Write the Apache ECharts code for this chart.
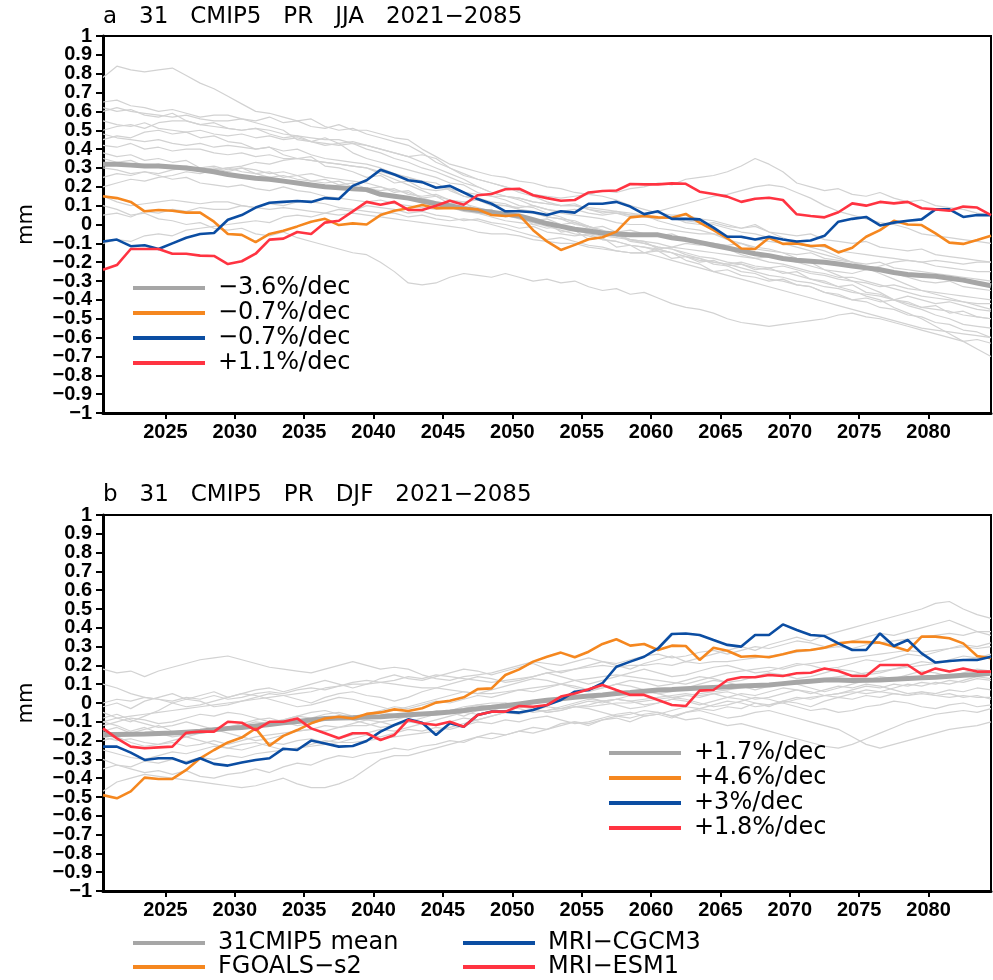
<!DOCTYPE html>
<html>
<head>
<meta charset="utf-8">
<script src="https://cdn.jsdelivr.net/npm/echarts@6/dist/echarts.min.js"></script>
<style>
  html, body { margin: 0; padding: 0; background: #fff; }
  #chart { width: 993px; height: 980px; }
</style>
</head>
<body>
<div id="chart"></div>
<script>
(function () {
    "use strict";

    // years 2021..2085, one value per year
    var years = [];
    for (var y = 2021; y <= 2085; y++) { years.push(y); }
    var xTicks = [2025, 2030, 2035, 2040, 2045, 2050, 2055, 2060, 2065, 2070, 2075, 2080];
    var yTicks = [-1, -0.9, -0.8, -0.7, -0.6, -0.5, -0.4, -0.3, -0.2, -0.1, 0,
        0.1, 0.2, 0.3, 0.4, 0.5, 0.6, 0.7, 0.8, 0.9, 1];
    // labels split over two axes so no axis has touching neighbours (echarts would cull them)
    var yEven = yTicks.filter(function (v, i) { return i % 2 === 0; });
    var yOdd = yTicks.filter(function (v, i) { return i % 2 === 1; });

    // ---------- panel a : JJA ----------
    var jjaMean = [0.32,0.32,0.315,0.31,0.31,0.305,0.30,0.29,0.28,0.265,0.255,0.245,0.24,0.23,0.22,0.21,0.20,0.195,0.19,0.185,
        0.16,0.15,0.14,0.125,0.11,0.10,0.085,0.075,0.065,0.055,0.045,0.025,0.005,-0.01,-0.025,-0.035,-0.045,-0.05,-0.055,-0.055,
        -0.055,-0.07,-0.08,-0.095,-0.11,-0.125,-0.14,-0.155,-0.165,-0.18,-0.19,-0.195,-0.2,-0.21,-0.22,-0.23,-0.24,-0.255,-0.265,-0.27,
        -0.275,-0.285,-0.295,-0.31,-0.325];
    var jjaFgoals = [0.15,0.14,0.12,0.07,0.077,0.073,0.063,0.063,0.015,-0.05,-0.055,-0.093,-0.05,-0.033,-0.01,0.015,0.03,-0.003,0.006,0,
        0.05,0.073,0.086,0.103,0.087,0.087,0.086,0.08,0.05,0.045,0.05,-0.03,-0.09,-0.135,-0.108,-0.078,-0.068,-0.038,0.038,0.045,
        0.038,0.036,0.056,0.01,-0.03,-0.073,-0.127,-0.13,-0.07,-0.103,-0.1,-0.114,-0.11,-0.148,-0.123,-0.065,-0.03,0.02,0,-0.003,
        -0.047,-0.096,-0.103,-0.082,-0.06];
    var jjaCgcm = [-0.09,-0.08,-0.115,-0.11,-0.13,-0.10,-0.07,-0.05,-0.045,0.025,0.05,0.09,0.115,0.12,0.125,0.12,0.14,0.135,0.205,0.235,
        0.29,0.265,0.235,0.225,0.195,0.205,0.17,0.135,0.11,0.07,0.07,0.065,0.05,0.07,0.063,0.11,0.11,0.12,0.095,0.055,
        0.07,0.03,0.03,0.027,-0.017,-0.065,-0.065,-0.08,-0.065,-0.08,-0.09,-0.085,-0.06,0.015,0.03,0.04,-0.005,0.01,0.02,0.027,
        0.08,0.08,0.04,0.05,0.05];
    var jjaEsm = [-0.24,-0.215,-0.13,-0.13,-0.13,-0.155,-0.155,-0.165,-0.167,-0.21,-0.195,-0.155,-0.08,-0.075,-0.04,-0.05,0.01,0.02,0.07,0.12,
        0.105,0.12,0.077,0.077,0.1,0.126,0.105,0.155,0.162,0.187,0.19,0.155,0.14,0.126,0.13,0.17,0.178,0.18,0.215,0.213,
        0.213,0.218,0.216,0.174,0.162,0.148,0.12,0.137,0.142,0.13,0.054,0.045,0.038,0.065,0.112,0.1,0.12,0.112,0.12,0.086,
        0.08,0.073,0.095,0.09,0.05];
    var jjaModels = [
        [0.78,0.84,0.82,0.81,0.82,0.83,0.79,0.75,0.72,0.68,0.64,0.60,0.59,0.57,0.55,0.56,0.52,0.50,0.51,0.48,
         0.46,0.44,0.42,0.38,0.33,0.30,0.27,0.24,0.22,0.20,0.17,0.15,0.12,0.10,0.11,0.08,0.06,0.07,0.05,0.05,
         0.02,0.00,-0.02,-0.03,-0.05,-0.08,-0.10,-0.12,-0.13,-0.15,-0.18,-0.20,-0.24,-0.27,-0.30,-0.33,-0.36,-0.40,-0.43,-0.45,
         -0.48,-0.50,-0.53,-0.54,-0.55],
        [0.65,0.66,0.63,0.62,0.60,0.61,0.59,0.57,0.58,0.58,0.56,0.55,0.57,0.54,0.55,0.52,0.51,0.53,0.50,0.50,
         0.48,0.46,0.45,0.40,0.36,0.32,0.30,0.28,0.26,0.25,0.23,0.22,0.20,0.19,0.17,0.16,0.15,0.13,0.10,0.08,
         0.06,0.05,0.05,0.03,0.02,0.00,-0.02,0.00,-0.04,-0.07,-0.10,-0.12,-0.14,-0.17,-0.20,-0.22,-0.23,-0.26,-0.28,-0.30,
         -0.31,-0.30,-0.33,-0.34,-0.35],
        [0.55,0.53,0.52,0.54,0.51,0.50,0.49,0.50,0.48,0.47,0.48,0.46,0.47,0.45,0.46,0.44,0.43,0.42,0.43,0.42,
         0.40,0.38,0.36,0.37,0.35,0.30,0.26,0.24,0.22,0.20,0.18,0.16,0.15,0.14,0.15,0.16,0.18,0.17,0.19,0.20,
         0.22,0.21,0.24,0.25,0.26,0.28,0.31,0.35,0.32,0.28,0.22,0.20,0.18,0.19,0.16,0.15,0.17,0.14,0.12,0.13,
         0.10,0.09,0.08,0.06,0.05],
        [0.48,0.46,0.45,0.44,0.45,0.43,0.42,0.43,0.41,0.42,0.41,0.40,0.41,0.39,0.40,0.37,0.35,0.34,0.33,0.32,
         0.30,0.27,0.25,0.23,0.22,0.18,0.15,0.13,0.11,0.10,0.08,0.06,0.04,0.03,0.02,-0.01,-0.03,-0.06,-0.08,-0.10,
         -0.12,-0.13,-0.15,-0.17,-0.18,-0.20,-0.21,-0.23,-0.24,-0.25,-0.27,-0.29,-0.31,-0.33,-0.35,-0.38,-0.40,-0.44,-0.47,-0.50,
         -0.54,-0.58,-0.62,-0.66,-0.70],
        [0.38,0.36,0.37,0.34,0.35,0.33,0.34,0.30,0.31,0.29,0.30,0.27,0.28,0.25,0.26,0.23,0.24,0.21,0.22,0.19,
         0.20,0.17,0.18,0.14,0.15,0.11,0.12,0.07,0.08,0.04,0.05,0.00,0.01,-0.04,-0.03,-0.08,-0.07,-0.12,-0.11,-0.15,
         -0.14,-0.18,-0.17,-0.20,-0.19,-0.22,-0.21,-0.24,-0.23,-0.26,-0.25,-0.29,-0.30,-0.33,-0.32,-0.36,-0.37,-0.40,-0.41,-0.44,
         -0.43,-0.47,-0.46,-0.49,-0.50],
        [0.10,0.08,0.05,0.06,0.03,0.02,0.00,0.01,-0.02,-0.03,-0.02,-0.05,-0.06,-0.04,-0.07,-0.09,-0.11,-0.13,-0.15,-0.16,
         -0.20,-0.25,-0.31,-0.32,-0.31,-0.28,-0.26,-0.27,-0.28,-0.26,-0.28,-0.30,-0.29,-0.31,-0.30,-0.33,-0.35,-0.34,-0.37,-0.36,
         -0.39,-0.42,-0.44,-0.45,-0.47,-0.50,-0.52,-0.53,-0.54,-0.53,-0.52,-0.51,-0.50,-0.48,-0.47,-0.49,-0.50,-0.52,-0.54,-0.56,
         -0.58,-0.60,-0.62,-0.61,-0.63],
        [0.30,0.29,0.27,0.28,0.26,0.24,0.25,0.22,0.21,0.20,0.21,0.19,0.18,0.20,0.18,0.17,0.15,0.14,0.13,0.12,
         0.13,0.11,0.10,0.09,0.08,0.09,0.07,0.06,0.05,0.05,0.04,0.02,0.03,0.00,0.01,-0.02,-0.01,-0.04,-0.03,-0.05,
         -0.06,-0.05,-0.08,-0.09,-0.10,-0.11,-0.10,-0.13,-0.14,-0.15,-0.16,-0.15,-0.18,-0.19,-0.20,-0.21,-0.20,-0.23,-0.24,-0.25,
         -0.26,-0.27,-0.28,-0.29,-0.30],
        [0.60,0.62,0.60,0.59,0.58,0.57,0.58,0.56,0.55,0.55,0.56,0.54,0.52,0.50,0.45,0.44,0.46,0.43,0.44,0.42,
         0.40,0.38,0.36,0.33,0.30,0.27,0.24,0.20,0.17,0.15,0.13,0.10,0.08,0.06,0.05,0.04,0.03,0.01,0.00,0.00,
         -0.02,-0.03,-0.04,-0.05,-0.05,-0.06,-0.07,-0.08,-0.09,-0.10,-0.12,-0.14,-0.16,-0.18,-0.20,-0.23,-0.26,-0.29,-0.32,-0.35,
         -0.37,-0.39,-0.41,-0.43,-0.45],
        [0.20,0.22,0.24,0.23,0.25,0.26,0.28,0.27,0.29,0.30,0.31,0.33,0.32,0.34,0.35,0.34,0.33,0.32,0.31,0.30,
         0.28,0.26,0.25,0.22,0.20,0.19,0.17,0.16,0.15,0.15,0.14,0.12,0.11,0.10,0.10,0.08,0.07,0.06,0.05,0.05,
         0.07,0.09,0.11,0.13,0.15,0.16,0.18,0.20,0.21,0.20,0.17,0.14,0.10,0.07,0.05,0.03,0.01,0.00,-0.02,-0.05,
         -0.06,-0.07,-0.08,-0.09,-0.10],
        [0.45,0.47,0.46,0.49,0.50,0.48,0.49,0.46,0.47,0.44,0.43,0.40,0.41,0.37,0.35,0.36,0.31,0.30,0.28,0.25,
         0.26,0.22,0.23,0.19,0.18,0.19,0.15,0.14,0.12,0.11,0.08,0.07,0.04,0.03,0.00,-0.01,-0.04,-0.05,-0.08,-0.09,
         -0.13,-0.15,-0.19,-0.21,-0.25,-0.24,-0.27,-0.28,-0.30,-0.29,-0.32,-0.33,-0.36,-0.38,-0.40,-0.39,-0.41,-0.40,-0.38,-0.40,
         -0.42,-0.41,-0.43,-0.45,-0.46],
        [-0.10,-0.08,-0.09,-0.06,-0.05,-0.06,-0.03,-0.02,-0.01,0.00,0.01,0.02,0.01,0.04,0.05,0.04,0.06,0.08,0.07,0.10,
         0.09,0.08,0.06,0.07,0.05,0.04,0.02,0.03,0.01,0.00,-0.02,-0.01,-0.04,-0.05,-0.06,-0.05,-0.08,-0.09,-0.11,-0.12,
         -0.13,-0.15,-0.17,-0.19,-0.20,-0.21,-0.20,-0.22,-0.23,-0.22,-0.24,-0.26,-0.27,-0.29,-0.30,-0.31,-0.33,-0.32,-0.34,-0.35,
         -0.36,-0.37,-0.38,-0.39,-0.40],
        [0.35,0.33,0.34,0.31,0.32,0.30,0.31,0.29,0.30,0.28,0.30,0.29,0.27,0.28,0.26,0.27,0.25,0.24,0.23,0.22,
         0.20,0.18,0.17,0.14,0.12,0.10,0.08,0.06,0.04,0.02,0.01,0.00,-0.02,-0.01,-0.03,-0.05,-0.06,-0.07,-0.08,-0.09,
         -0.10,-0.12,-0.13,-0.14,-0.15,-0.16,-0.17,-0.18,-0.17,-0.18,-0.20,-0.22,-0.24,-0.25,-0.26,-0.24,-0.22,-0.20,-0.19,-0.20,
         -0.22,-0.23,-0.24,-0.25,-0.25],
        [0.50,0.52,0.53,0.51,0.54,0.55,0.55,0.53,0.52,0.51,0.50,0.51,0.50,0.48,0.47,0.46,0.45,0.45,0.43,0.40,
         0.38,0.35,0.33,0.30,0.28,0.25,0.22,0.20,0.17,0.15,0.14,0.12,0.11,0.10,0.10,0.09,0.08,0.07,0.06,0.05,
         0.04,0.03,0.02,0.01,0.00,-0.02,-0.04,-0.05,-0.07,-0.08,-0.10,-0.11,-0.12,-0.14,-0.15,-0.16,-0.17,-0.18,-0.19,-0.20,
         -0.19,-0.20,-0.21,-0.20,-0.20],
        [0.15,0.12,0.10,0.11,0.12,0.13,0.12,0.11,0.12,0.12,0.10,0.09,0.08,0.09,0.08,0.07,0.06,0.05,0.06,0.05,
         0.04,0.03,0.02,0.01,0.00,-0.01,-0.02,-0.04,-0.05,-0.05,-0.06,-0.08,-0.09,-0.10,-0.10,-0.12,-0.13,-0.14,-0.15,-0.15,
         -0.17,-0.19,-0.21,-0.23,-0.25,-0.27,-0.29,-0.31,-0.33,-0.35,-0.37,-0.39,-0.41,-0.43,-0.45,-0.47,-0.49,-0.51,-0.53,-0.55,
         -0.56,-0.57,-0.58,-0.59,-0.60],
        [0.62,0.60,0.61,0.58,0.57,0.59,0.55,0.53,0.54,0.51,0.50,0.51,0.48,0.46,0.47,0.44,0.42,0.43,0.38,0.35,
         0.33,0.31,0.29,0.27,0.25,0.22,0.21,0.17,0.15,0.13,0.10,0.09,0.06,0.04,0.01,-0.01,-0.04,-0.05,-0.09,-0.10,
         -0.12,-0.13,-0.16,-0.18,-0.21,-0.22,-0.25,-0.26,-0.29,-0.30,-0.32,-0.33,-0.36,-0.37,-0.40,-0.41,-0.44,-0.45,-0.48,-0.49,
         -0.52,-0.53,-0.56,-0.57,-0.60],
        [0.25,0.27,0.26,0.28,0.27,0.29,0.30,0.28,0.29,0.30,0.28,0.27,0.25,0.26,0.24,0.23,0.22,0.23,0.20,0.19,
         0.18,0.19,0.16,0.15,0.16,0.13,0.12,0.13,0.10,0.10,0.09,0.10,0.08,0.07,0.08,0.06,0.05,0.06,0.04,0.04,
         0.03,0.04,0.01,0.00,0.01,-0.01,-0.02,-0.01,-0.04,-0.05,-0.06,-0.05,-0.08,-0.09,-0.10,-0.09,-0.12,-0.13,-0.14,-0.13,
         -0.16,-0.17,-0.18,-0.19,-0.20],
        [0.42,0.41,0.43,0.40,0.41,0.39,0.40,0.40,0.38,0.37,0.38,0.36,0.37,0.35,0.35,0.34,0.33,0.32,0.31,0.30,
         0.27,0.24,0.21,0.18,0.15,0.13,0.11,0.09,0.07,0.05,0.03,0.01,-0.01,-0.03,-0.05,-0.06,-0.08,-0.09,-0.11,-0.12,
         -0.14,-0.15,-0.17,-0.18,-0.20,-0.21,-0.23,-0.25,-0.27,-0.28,-0.30,-0.31,-0.33,-0.34,-0.36,-0.37,-0.38,-0.40,-0.42,-0.44,
         -0.45,-0.46,-0.48,-0.49,-0.50],
        [0.05,0.06,0.04,0.07,0.06,0.08,0.07,0.09,0.08,0.08,0.10,0.09,0.11,0.10,0.12,0.12,0.11,0.09,0.08,0.07,
         0.06,0.06,0.04,0.05,0.03,0.02,0.03,0.02,0.00,-0.02,-0.04,-0.06,-0.08,-0.07,-0.09,-0.11,-0.12,-0.14,-0.15,-0.15,
         -0.13,-0.12,-0.10,-0.11,-0.10,-0.13,-0.16,-0.18,-0.20,-0.21,-0.23,-0.25,-0.26,-0.28,-0.28,-0.30,-0.32,-0.34,-0.36,-0.38,
         -0.39,-0.40,-0.41,-0.42,-0.42]
    ];
    var jjaTrends = ['\u22123.6%/dec', '\u22120.7%/dec', '\u22120.7%/dec', '+1.1%/dec'];

    // ---------- panel b : DJF ----------
    var djfMean = [-0.167,-0.167,-0.166,-0.165,-0.162,-0.16,-0.155,-0.15,-0.142,-0.135,-0.13,-0.122,-0.114,-0.105,-0.098,-0.09,-0.083,-0.08,-0.078,-0.075,
        -0.073,-0.068,-0.063,-0.058,-0.055,-0.048,-0.04,-0.03,-0.023,-0.015,-0.005,0.005,0.015,0.022,0.03,0.037,0.043,0.05,0.056,0.063,
        0.069,0.072,0.076,0.08,0.083,0.086,0.09,0.093,0.096,0.103,0.11,0.116,0.122,0.122,0.12,0.121,0.122,0.126,0.13,0.134,
        0.137,0.142,0.147,0.152,0.158];
    var djfFgoals = [-0.49,-0.507,-0.47,-0.397,-0.404,-0.404,-0.356,-0.294,-0.25,-0.21,-0.184,-0.135,-0.227,-0.175,-0.144,-0.108,-0.082,-0.073,-0.082,-0.058,
        -0.05,-0.034,-0.043,-0.028,0.002,0.012,0.03,0.074,0.078,0.149,0.179,0.22,0.246,0.268,0.243,0.273,0.314,0.339,0.305,0.314,
        0.282,0.305,0.303,0.229,0.294,0.278,0.246,0.25,0.243,0.259,0.278,0.282,0.294,0.317,0.326,0.324,0.321,0.3,0.278,0.353,
        0.353,0.344,0.317,0.25,0.238];
    var djfCgcm = [-0.232,-0.232,-0.264,-0.303,-0.294,-0.294,-0.32,-0.294,-0.324,-0.333,-0.317,-0.303,-0.294,-0.243,-0.25,-0.2,-0.215,-0.232,-0.229,-0.202,
        -0.152,-0.117,-0.087,-0.105,-0.17,-0.108,-0.126,-0.064,-0.046,-0.046,-0.051,-0.037,-0.011,0.016,0.06,0.069,0.105,0.193,0.22,0.246,
        0.29,0.367,0.37,0.362,0.335,0.309,0.3,0.362,0.362,0.418,0.388,0.362,0.356,0.317,0.282,0.282,0.37,0.303,0.335,0.264,
        0.215,0.223,0.229,0.229,0.246];
    var djfEsm = [-0.135,-0.188,-0.232,-0.241,-0.236,-0.232,-0.158,-0.152,-0.152,-0.1,-0.105,-0.144,-0.1,-0.1,-0.082,-0.135,-0.161,-0.188,-0.161,-0.161,
        -0.197,-0.17,-0.09,-0.108,-0.117,-0.1,-0.126,-0.064,-0.046,-0.046,-0.016,-0.02,-0.011,0.034,0.051,0.073,0.096,0.069,0.043,0.043,
        0.016,-0.011,-0.016,0.066,0.069,0.122,0.137,0.137,0.149,0.144,0.158,0.161,0.184,0.17,0.144,0.144,0.202,0.202,0.202,0.154,
        0.184,0.167,0.184,0.167,0.167];
    var djfModels = [
        [0.18,0.16,0.17,0.14,0.17,0.19,0.21,0.23,0.24,0.25,0.23,0.21,0.19,0.18,0.17,0.16,0.18,0.20,0.22,0.20,
         0.18,0.19,0.18,0.15,0.13,0.12,0.14,0.15,0.16,0.18,0.20,0.22,0.21,0.20,0.22,0.24,0.22,0.21,0.23,0.25,
         0.26,0.24,0.25,0.27,0.28,0.26,0.28,0.30,0.29,0.31,0.33,0.32,0.30,0.31,0.33,0.35,0.37,0.36,0.38,0.40,
         0.42,0.44,0.41,0.38,0.36],
        [-0.02,0.00,-0.03,0.01,0.03,0.05,0.02,0.04,0.06,0.03,0.05,0.07,0.08,0.06,0.08,0.10,0.12,0.10,0.08,0.10,
         0.13,0.15,0.13,0.12,0.14,0.16,0.18,0.17,0.15,0.17,0.19,0.21,0.18,0.16,0.18,0.20,0.22,0.20,0.18,0.21,
         0.23,0.25,0.22,0.24,0.26,0.28,0.30,0.28,0.31,0.33,0.35,0.33,0.36,0.38,0.40,0.42,0.44,0.46,0.48,0.50,
         0.53,0.54,0.50,0.47,0.45],
        [-0.47,-0.42,-0.40,-0.38,-0.39,-0.40,-0.41,-0.42,-0.43,-0.44,-0.45,-0.44,-0.42,-0.40,-0.43,-0.45,-0.45,-0.43,-0.40,-0.35,
         -0.30,-0.28,-0.28,-0.26,-0.24,-0.22,-0.20,-0.18,-0.19,-0.17,-0.15,-0.16,-0.14,-0.12,-0.10,-0.11,-0.09,-0.07,-0.08,-0.06,
         -0.05,-0.07,-0.05,-0.04,-0.06,-0.08,-0.07,-0.05,-0.04,-0.06,-0.08,-0.10,-0.12,-0.14,-0.18,-0.22,-0.24,-0.22,-0.20,-0.18,
         -0.16,-0.14,-0.13,-0.12,-0.10],
        [-0.30,-0.33,-0.35,-0.37,-0.36,-0.38,-0.36,-0.39,-0.40,-0.38,-0.37,-0.35,-0.37,-0.34,-0.32,-0.33,-0.30,-0.28,-0.29,-0.27,
         -0.26,-0.24,-0.25,-0.23,-0.22,-0.20,-0.21,-0.18,-0.16,-0.17,-0.15,-0.13,-0.14,-0.11,-0.10,-0.12,-0.09,-0.08,-0.10,-0.07,
         -0.06,-0.08,-0.05,-0.03,-0.04,-0.02,-0.03,0.00,-0.02,0.01,0.00,-0.02,0.01,0.03,0.02,0.04,0.03,0.05,0.04,0.06,
         0.05,0.07,0.06,0.08,0.07],
        [-0.05,-0.08,-0.10,-0.07,-0.04,0.00,0.02,0.01,-0.02,-0.01,0.01,0.03,0.05,0.04,0.02,0.00,0.03,0.05,0.06,0.04,
         0.03,0.01,0.03,0.06,0.08,0.10,0.12,0.14,0.13,0.11,0.12,0.14,0.16,0.14,0.12,0.10,0.12,0.14,0.16,0.18,
         0.16,0.14,0.15,0.17,0.19,0.20,0.18,0.16,0.17,0.19,0.21,0.20,0.18,0.19,0.21,0.23,0.22,0.24,0.26,0.25,
         0.27,0.29,0.31,0.30,0.32],
        [-0.10,-0.12,-0.15,-0.13,-0.16,-0.18,-0.17,-0.15,-0.14,-0.16,-0.18,-0.20,-0.19,-0.17,-0.15,-0.14,-0.12,-0.13,-0.11,-0.09,
         -0.10,-0.12,-0.10,-0.08,-0.06,-0.05,-0.07,-0.04,-0.02,-0.03,-0.01,0.01,0.00,0.02,0.04,0.03,0.01,0.02,0.04,0.06,
         0.05,0.03,0.02,0.00,-0.02,-0.01,0.01,0.03,0.02,0.00,-0.02,-0.04,-0.03,-0.05,-0.04,-0.02,-0.01,0.01,0.00,-0.02,
         -0.03,-0.01,0.00,-0.02,-0.01],
        [-0.20,-0.18,-0.21,-0.23,-0.22,-0.20,-0.18,-0.16,-0.15,-0.13,-0.12,-0.10,-0.11,-0.09,-0.07,-0.08,-0.06,-0.05,-0.07,-0.06,
         -0.04,-0.02,-0.03,-0.01,0.01,0.00,0.02,0.04,0.03,0.05,0.07,0.06,0.08,0.10,0.09,0.07,0.08,0.10,0.12,0.11,
         0.09,0.10,0.12,0.14,0.13,0.11,0.12,0.14,0.16,0.15,0.13,0.14,0.16,0.18,0.17,0.15,0.16,0.18,0.20,0.22,
         0.21,0.23,0.25,0.24,0.26],
        [-0.15,-0.13,-0.16,-0.14,-0.12,-0.15,-0.18,-0.20,-0.22,-0.24,-0.25,-0.23,-0.21,-0.22,-0.20,-0.19,-0.21,-0.19,-0.17,-0.16,
         -0.14,-0.15,-0.13,-0.11,-0.12,-0.10,-0.08,-0.09,-0.07,-0.05,-0.06,-0.04,-0.02,-0.03,-0.01,0.01,0.00,0.02,0.01,-0.01,
         0.00,0.02,0.04,0.03,0.05,0.06,0.04,0.02,0.03,0.05,0.07,0.06,0.04,0.05,0.07,0.09,0.08,0.10,0.09,0.11,
         0.10,0.12,0.11,0.13,0.12],
        [-0.12,-0.10,-0.08,-0.09,-0.11,-0.10,-0.08,-0.06,-0.07,-0.05,-0.06,-0.08,-0.10,-0.09,-0.07,-0.05,-0.04,-0.06,-0.08,-0.07,
         -0.05,-0.06,-0.08,-0.06,-0.04,-0.05,-0.03,-0.01,-0.02,0.00,-0.01,-0.03,-0.05,-0.04,-0.02,-0.03,-0.05,-0.07,-0.06,-0.04,
         -0.05,-0.07,-0.09,-0.08,-0.10,-0.12,-0.11,-0.13,-0.15,-0.17,-0.19,-0.21,-0.23,-0.24,-0.22,-0.19,-0.16,-0.13,-0.10,-0.08,
         -0.06,-0.05,-0.04,-0.05,-0.03],
        [0.10,0.08,0.05,0.03,0.02,0.00,-0.02,-0.01,0.01,0.03,0.05,0.04,0.02,0.00,-0.02,-0.01,0.01,0.03,0.02,0.00,
         -0.02,-0.04,-0.02,0.00,0.02,0.04,0.06,0.05,0.07,0.09,0.11,0.13,0.12,0.10,0.08,0.06,0.08,0.10,0.09,0.07,
         0.05,0.06,0.08,0.10,0.12,0.11,0.09,0.07,0.09,0.11,0.10,0.08,0.06,0.08,0.10,0.12,0.14,0.13,0.15,0.17,
         0.16,0.14,0.16,0.18,0.17],
        [-0.25,-0.27,-0.29,-0.30,-0.28,-0.26,-0.27,-0.25,-0.23,-0.24,-0.22,-0.21,-0.23,-0.25,-0.24,-0.22,-0.20,-0.21,-0.19,-0.17,
         -0.18,-0.16,-0.14,-0.15,-0.13,-0.14,-0.12,-0.10,-0.11,-0.09,-0.10,-0.08,-0.07,-0.09,-0.11,-0.10,-0.08,-0.06,-0.05,-0.07,
         -0.06,-0.04,-0.02,-0.03,-0.01,0.01,0.00,-0.02,-0.01,0.01,0.03,0.02,0.04,0.03,0.05,0.07,0.06,0.08,0.10,0.09,
         0.11,0.10,0.12,0.14,0.13],
        [-0.08,-0.06,-0.09,-0.11,-0.13,-0.12,-0.10,-0.12,-0.14,-0.13,-0.11,-0.09,-0.08,-0.10,-0.12,-0.11,-0.09,-0.07,-0.09,-0.11,
         -0.13,-0.12,-0.10,-0.11,-0.09,-0.07,-0.05,-0.06,-0.04,-0.02,-0.03,-0.05,-0.04,-0.02,0.00,0.02,0.01,-0.01,-0.03,-0.02,
         0.00,0.02,0.01,-0.01,0.01,0.03,0.05,0.04,0.06,0.08,0.07,0.05,0.07,0.09,0.08,0.10,0.09,0.07,0.05,0.06,
         0.04,0.05,0.03,0.04,0.02],
        [-0.35,-0.33,-0.34,-0.31,-0.32,-0.30,-0.31,-0.29,-0.30,-0.28,-0.29,-0.27,-0.26,-0.25,-0.24,-0.23,-0.22,-0.21,-0.21,-0.20,
         -0.19,-0.18,-0.17,-0.16,-0.15,-0.13,-0.11,-0.09,-0.07,-0.05,-0.05,-0.04,-0.04,-0.03,-0.02,-0.02,-0.01,0.00,0.00,0.01,
         0.02,0.03,0.04,0.05,0.06,0.07,0.08,0.09,0.10,0.10,0.11,0.12,0.13,0.14,0.15,0.16,0.17,0.18,0.19,0.20,
         0.21,0.22,0.23,0.24,0.25],
        [0.00,0.02,0.01,0.03,0.02,0.01,0.03,0.02,0.04,0.02,0.03,0.05,0.06,0.05,0.07,0.08,0.07,0.09,0.10,0.10,
         0.11,0.12,0.14,0.13,0.15,0.14,0.13,0.12,0.11,0.12,0.13,0.14,0.16,0.17,0.18,0.19,0.20,0.19,0.20,0.20,
         0.21,0.20,0.22,0.21,0.22,0.22,0.23,0.24,0.25,0.26,0.27,0.28,0.29,0.30,0.29,0.31,0.32,0.33,0.34,0.35,
         0.36,0.37,0.36,0.38,0.38],
        [-0.18,-0.20,-0.19,-0.21,-0.22,-0.21,-0.23,-0.22,-0.20,-0.22,-0.20,-0.18,-0.17,-0.16,-0.15,-0.14,-0.15,-0.13,-0.12,-0.12,
         -0.10,-0.09,-0.07,-0.06,-0.05,-0.04,-0.02,-0.01,0.00,0.00,-0.02,-0.03,-0.05,-0.04,-0.02,-0.01,0.01,0.02,0.01,0.02,
         0.03,0.04,0.05,0.04,0.05,0.03,0.02,0.00,-0.01,0.00,0.02,0.03,0.04,0.05,0.06,0.05,0.06,0.05,0.04,0.05,
         0.04,0.03,0.04,0.03,0.03],
        [-0.10,-0.08,-0.07,-0.06,-0.05,-0.04,-0.03,-0.02,-0.01,0.00,0.01,0.02,0.03,0.04,0.05,0.06,0.08,0.09,0.11,0.12,
         0.11,0.10,0.09,0.08,0.08,0.07,0.06,0.05,0.05,0.06,0.07,0.08,0.09,0.10,0.12,0.13,0.14,0.15,0.14,0.13,
         0.12,0.11,0.10,0.12,0.14,0.16,0.17,0.18,0.19,0.18,0.20,0.21,0.22,0.23,0.24,0.25,0.26,0.27,0.28,0.27,
         0.28,0.29,0.30,0.29,0.30]
    ];
    var djfTrends = ['+1.7%/dec', '+4.6%/dec', '+3%/dec', '+1.8%/dec'];

    var modelNames = ['31CMIP5 mean', 'FGOALS\u2212s2', 'MRI\u2212CGCM3', 'MRI\u2212ESM1'];
    var colors = ['#a6a6a6', '#f5871f', '#0b4da2', '#ff3341'];
    var widths = [5, 2.6, 2.6, 2.6];

    var FONT = 'DejaVu Sans';
    var chart = echarts.init(document.getElementById('chart'), null, {renderer: 'canvas'});

    // points sit mid-way in each year cell, so the axis runs half a year either side
    function pairs(vals) {
        return vals.map(function (v, i) { return [years[i] - 0.5, v]; });
    }

    function yLabel(v) {
        var r = Math.round(v * 10) / 10;
        return String(r).replace('-', '\u2212');
    }

    var labelStyle = {color: '#000', fontSize: 20, fontWeight: 'bold', fontFamily: 'Liberation Sans'};

    function xAxisFor(idx) {
        return {
            type: 'value', gridIndex: idx, min: 2020.5, max: 2084.5,
            axisLine: {onZero: false, lineStyle: {color: '#000', width: 3}},
            axisTick: {customValues: xTicks, length: 6, lineStyle: {color: '#000', width: 2}},
            axisLabel: echarts.util.extend({customValues: xTicks, margin: 9,
                formatter: function (v) { return String(v); }}, labelStyle),
            splitLine: {show: false}
        };
    }
    function yAxisFor(idx) {
        return {
            type: 'value', gridIndex: idx, min: -1, max: 1,
            name: 'mm', nameLocation: 'middle', nameGap: 66, nameRotate: 90,
            nameTextStyle: {color: '#000', fontSize: 21, fontFamily: FONT},
            axisLine: {lineStyle: {color: '#000', width: 3}},
            axisTick: {customValues: yTicks, length: 7, lineStyle: {color: '#000', width: 2}},
            axisLabel: echarts.util.extend({customValues: yEven, margin: 11, hideOverlap: false,
                showMinLabel: true, showMaxLabel: true, formatter: yLabel}, labelStyle),
            splitLine: {show: false}
        };
    }
    // overlay axis carrying the odd tenths
    function yOddAxisFor(idx) {
        return {
            type: 'value', gridIndex: idx, min: -1, max: 1, position: 'left',
            axisLine: {show: false}, axisTick: {show: false}, splitLine: {show: false},
            axisLabel: echarts.util.extend({customValues: yOdd, margin: 11, hideOverlap: false,
                showMinLabel: true, showMaxLabel: true, formatter: yLabel}, labelStyle)
        };
    }

    var series = [];
    function addPanel(idx, models, main, prefix) {
        models.forEach(function (vals, k) {
            series.push({
                type: 'line', name: prefix + 'model' + k, xAxisIndex: idx, yAxisIndex: idx,
                data: pairs(vals), symbol: 'none', silent: true, z: 2,
                lineStyle: {color: '#d2d2d2', width: 1.2}, itemStyle: {color: '#d2d2d2'}
            });
        });
        main.forEach(function (vals, k) {
            series.push({
                type: 'line', name: prefix + k, xAxisIndex: idx, yAxisIndex: idx,
                data: pairs(vals), symbol: 'none', silent: true, z: 3 + k,
                lineStyle: {color: colors[k], width: widths[k]}, itemStyle: {color: colors[k]}
            });
        });
    }
    addPanel(0, jjaModels, [jjaMean, jjaFgoals, jjaCgcm, jjaEsm], 'a');
    addPanel(1, djfModels, [djfMean, djfFgoals, djfCgcm, djfEsm], 'b');

    function legendBox(names, labels, left, top, gap) {
        return {
            data: names, left: left, top: top, orient: 'vertical', icon: 'rect',
            itemWidth: 72, itemHeight: 4, itemGap: gap, selectedMode: false, padding: 0,
            textStyle: {color: '#000', fontSize: 24, fontFamily: FONT, lineHeight: 24, padding: [0, 0, 0, 8]},
            formatter: function (n) { return labels[names.indexOf(n)]; }
        };
    }

    chart.setOption({
        backgroundColor: '#fff',
        animation: false,
        title: [
            {text: 'a   31   CMIP5   PR   JJA   2021\u22122085', left: 103, top: 6, padding: 0,
                textStyle: {color: '#000', fontSize: 23, fontWeight: 'normal', fontFamily: FONT}},
            {text: 'b   31   CMIP5   PR   DJF   2021\u22122085', left: 103, top: 484, padding: 0,
                textStyle: {color: '#000', fontSize: 23, fontWeight: 'normal', fontFamily: FONT}}
        ],
        grid: [
            {left: 103, top: 36, width: 888, height: 377, show: true, borderColor: '#000', borderWidth: 2},
            {left: 103, top: 515, width: 888, height: 376, show: true, borderColor: '#000', borderWidth: 2}
        ],
        xAxis: [xAxisFor(0), xAxisFor(1)],
        yAxis: [yAxisFor(0), yAxisFor(1), yOddAxisFor(0), yOddAxisFor(1)],
        legend: [
            legendBox(['a0', 'a1', 'a2', 'a3'], jjaTrends, 133, 276, 1),
            legendBox(['b0', 'b1', 'b2', 'b3'], djfTrends, 609, 741, 1),
            legendBox(['b0', 'b1'], [modelNames[0], modelNames[1]], 133, 931, 0),
            legendBox(['b2', 'b3'], [modelNames[2], modelNames[3]], 463, 931, 0)
        ],
        series: series
    });
}());
</script>
</body>
</html>
